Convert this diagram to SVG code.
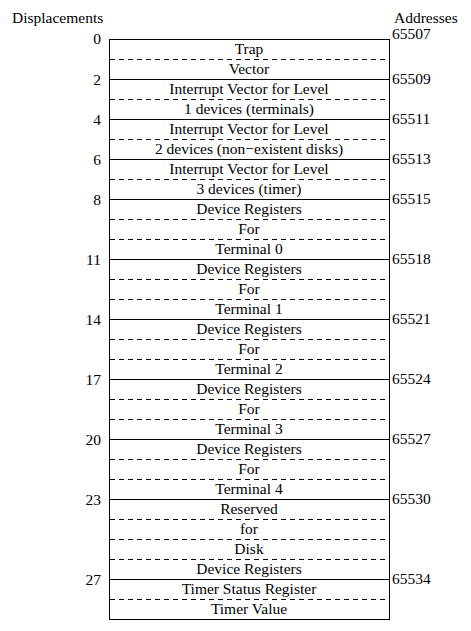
<svg xmlns="http://www.w3.org/2000/svg" width="471" height="631" viewBox="0 0 471 631">
<style>
text{font-family:'Liberation Serif',Tinos,'Nimbus Roman','DejaVu Serif',serif;font-size:15.5px;fill:#000}
.c{text-anchor:middle}
.d{text-anchor:end}
.s{stroke:#000;stroke-width:1;fill:none}
.h{stroke:#000;stroke-width:1;stroke-dasharray:5 4}
</style>
<rect width="471" height="631" fill="#fff"/>
<text x="12" y="23">Displacements</text>
<text x="394" y="23">Addresses</text>
<g id="connectors">
<rect class="s" x="109.5" y="39.5" width="280" height="580"/>
<line class="h" x1="110" y1="59.5" x2="389" y2="59.5"/>
<line class="s" x1="110" y1="79.5" x2="389" y2="79.5"/>
<line class="h" x1="110" y1="99.5" x2="389" y2="99.5"/>
<line class="s" x1="110" y1="119.5" x2="389" y2="119.5"/>
<line class="h" x1="110" y1="139.5" x2="389" y2="139.5"/>
<line class="s" x1="110" y1="159.5" x2="389" y2="159.5"/>
<line class="h" x1="110" y1="179.5" x2="389" y2="179.5"/>
<line class="s" x1="110" y1="199.5" x2="389" y2="199.5"/>
<line class="h" x1="110" y1="219.5" x2="389" y2="219.5"/>
<line class="h" x1="110" y1="239.5" x2="389" y2="239.5"/>
<line class="s" x1="110" y1="259.5" x2="389" y2="259.5"/>
<line class="h" x1="110" y1="279.5" x2="389" y2="279.5"/>
<line class="h" x1="110" y1="299.5" x2="389" y2="299.5"/>
<line class="s" x1="110" y1="319.5" x2="389" y2="319.5"/>
<line class="h" x1="110" y1="339.5" x2="389" y2="339.5"/>
<line class="h" x1="110" y1="359.5" x2="389" y2="359.5"/>
<line class="s" x1="110" y1="379.5" x2="389" y2="379.5"/>
<line class="h" x1="110" y1="399.5" x2="389" y2="399.5"/>
<line class="h" x1="110" y1="419.5" x2="389" y2="419.5"/>
<line class="s" x1="110" y1="439.5" x2="389" y2="439.5"/>
<line class="h" x1="110" y1="459.5" x2="389" y2="459.5"/>
<line class="h" x1="110" y1="479.5" x2="389" y2="479.5"/>
<line class="s" x1="110" y1="499.5" x2="389" y2="499.5"/>
<line class="h" x1="110" y1="519.5" x2="389" y2="519.5"/>
<line class="h" x1="110" y1="539.5" x2="389" y2="539.5"/>
<line class="h" x1="110" y1="559.5" x2="389" y2="559.5"/>
<line class="s" x1="110" y1="579.5" x2="389" y2="579.5"/>
<line class="h" x1="110" y1="599.5" x2="389" y2="599.5"/>
</g>
<g id="r0"><text class="d" x="101" y="44">0</text><text x="392" y="39">65507</text><text class="c" x="249" y="54">Trap</text></g>
<g id="r1"><text class="c" x="249" y="74">Vector</text></g>
<g id="r2"><text class="d" x="101" y="85">2</text><text x="392" y="84">65509</text><text class="c" x="249" y="94">Interrupt Vector for Level</text></g>
<g id="r3"><text class="c" x="249" y="114">1 devices (terminals)</text></g>
<g id="r4"><text class="d" x="101" y="125">4</text><text x="392" y="124">65511</text><text class="c" x="249" y="134">Interrupt Vector for Level</text></g>
<g id="r5"><text class="c" x="249" y="154">2 devices (non−existent disks)</text></g>
<g id="r6"><text class="d" x="101" y="165">6</text><text x="392" y="164">65513</text><text class="c" x="249" y="174">Interrupt Vector for Level</text></g>
<g id="r7"><text class="c" x="249" y="194">3 devices (timer)</text></g>
<g id="r8"><text class="d" x="101" y="205">8</text><text x="392" y="204">65515</text><text class="c" x="249" y="214">Device Registers</text></g>
<g id="r9"><text class="c" x="249" y="234">For</text></g>
<g id="r10"><text class="c" x="249" y="254">Terminal 0</text></g>
<g id="r11"><text class="d" x="101" y="265">11</text><text x="392" y="264">65518</text><text class="c" x="249" y="274">Device Registers</text></g>
<g id="r12"><text class="c" x="249" y="294">For</text></g>
<g id="r13"><text class="c" x="249" y="314">Terminal 1</text></g>
<g id="r14"><text class="d" x="101" y="325">14</text><text x="392" y="324">65521</text><text class="c" x="249" y="334">Device Registers</text></g>
<g id="r15"><text class="c" x="249" y="354">For</text></g>
<g id="r16"><text class="c" x="249" y="374">Terminal 2</text></g>
<g id="r17"><text class="d" x="101" y="385">17</text><text x="392" y="384">65524</text><text class="c" x="249" y="394">Device Registers</text></g>
<g id="r18"><text class="c" x="249" y="414">For</text></g>
<g id="r19"><text class="c" x="249" y="434">Terminal 3</text></g>
<g id="r20"><text class="d" x="101" y="445">20</text><text x="392" y="444">65527</text><text class="c" x="249" y="454">Device Registers</text></g>
<g id="r21"><text class="c" x="249" y="474">For</text></g>
<g id="r22"><text class="c" x="249" y="494">Terminal 4</text></g>
<g id="r23"><text class="d" x="101" y="505">23</text><text x="392" y="504">65530</text><text class="c" x="249" y="514">Reserved</text></g>
<g id="r24"><text class="c" x="249" y="534">for</text></g>
<g id="r25"><text class="c" x="249" y="554">Disk</text></g>
<g id="r26"><text class="c" x="249" y="574">Device Registers</text></g>
<g id="r27"><text class="d" x="101" y="585">27</text><text x="392" y="584">65534</text><text class="c" x="249" y="594">Timer Status Register</text></g>
<g id="r28"><text class="c" x="249" y="614">Timer Value</text></g>
</svg>
